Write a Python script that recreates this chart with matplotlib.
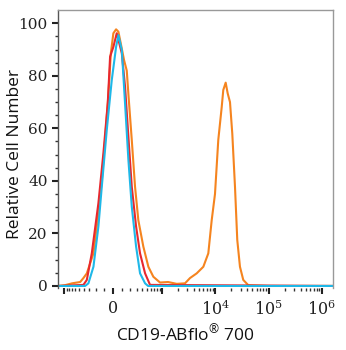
import numpy as np
import matplotlib
matplotlib.use("Agg")
import matplotlib.pyplot as plt

# CD19 histogram overlay, x values in fluorescence units (logicle-like axis)
orange_x = [-1300, -960, -700, -480, -409, -343, -235, -167, -125, -87, -50, -24, 3, 32, 57, 83,
            121, 154, 175, 221, 270, 325, 421, 538, 678, 917, 1307, 1909, 2732, 3391, 4532,
            6027, 7470, 8645, 9966, 11486, 13300, 14250, 15800, 17230, 19020, 21000, 23590,
            26030, 29240, 33700, 41790, 1e5, 1e6, 1.6e6]
orange_y = [0, 0.3, 1, 1.5, 3, 4.8, 12.4, 27.7, 40, 55.6, 73, 88.6, 96.2, 97.7, 96.8, 92.4,
            86, 82, 73, 55.6, 37.8, 25, 15, 7.3, 3.5, 1.3, 1.5, 0.8, 1, 3, 4.8,
            7.3, 12.4, 25, 35, 55.6, 68, 74.6, 77.4, 73.3, 70, 58, 37.8,
            17.5, 7.3, 2.3, 0.3, 0, 0, 0]

red_x = [-1300, -409, -343, -260, -167, -106, -57, -32, 3, 39, 95, 133, 175, 221, 287, 356,
         459, 582, 1.6e6]
red_y = [0, 0.4, 2.3, 12.4, 31.5, 50.6, 69.7, 87.3, 91, 96.2, 88.6, 75.9, 56.8, 37.8, 22.6,
         12.4, 4.8, 0.4, 0]

blue_x = [-1300, -375, -315, -235, -167, -125, -68, -14, 32, 57, 95, 133, 175, 221, 287, 356,
          459, 530, 1.6e6]
blue_y = [0, 0, 1, 7.3, 22.6, 37.8, 59.4, 78.4, 91, 95.5, 89.8, 69.5, 48, 30.2, 15, 4.8,
          1, 0, 0]

major_ticks = [-1e3, 0, 1e3, 1e4, 1e5, 1e6]
major_labels = ['', '0', '', '$10^4$', '$10^5$', '$10^6$']

W = 247.0
def fwd(x):
    return np.arcsinh(np.asarray(x, dtype=float) / W)
def inv(y):
    return W * np.sinh(y)

plt.rcParams['mathtext.fontset'] = 'dejavuserif'

fig = plt.figure(figsize=(3.46, 3.5), dpi=100)
ax = fig.add_axes([0.168, 0.177, 0.794, 0.794])
ax.set_xscale('function', functions=(fwd, inv))

ax.plot(orange_x, orange_y, color='#f5841f', lw=1.5)
ax.plot(red_x, red_y, color='#e8282e', lw=1.5)
ax.plot(blue_x, blue_y, color='#1fb8e8', lw=1.5)

ax.set_xlim(-1307, 1.6e6)
ax.set_ylim(-0.8, 105)

ax.set_xticks(major_ticks, major_labels)
minor = []
for k in [2, 3, 4, 5]:
    for m in range(2 if k > 2 else 1, 10):
        v = m * 10 ** k
        if v < 1.6e6:
            minor.append(v)
minor += [-m * 100 for m in range(1, 10)] + [100]
ax.set_xticks(sorted(set(minor)), minor=True)

ax.set_yticks([0, 20, 40, 60, 80, 100])
ax.set_yticks(np.arange(0, 105, 5), minor=True)

for lab in ax.get_xticklabels():
    lab.set_family('DejaVu Serif')
    lab.set_fontsize(11.5)
    lab.set_color('#222222')
for lab in ax.get_yticklabels():
    lab.set_family('DejaVu Serif')
    lab.set_fontsize(11)
    lab.set_color('#222222')

ax.tick_params(axis='both', which='major', direction='out', length=4.5, width=1.5, color='#222222')
ax.tick_params(axis='both', which='minor', direction='out', length=2.5, width=1.0, color='#333333')
ax.tick_params(axis='x', which='both', pad=4)
ax.tick_params(axis='y', which='major', pad=3)

ax.spines['bottom'].set_visible(False)
ax.spines['left'].set_color('#555555')
ax.spines['top'].set_color('#999999')
ax.spines['right'].set_color('#999999')
for s in ax.spines.values():
    s.set_linewidth(1.0)

ax.set_ylabel('Relative Cell Number', family='Open Sans', fontsize=12.5, color='#111111')
ax.yaxis.set_label_coords(-0.127, 0.482)
ax.set_xlabel(r'CD19-ABflo$\mathregular{^{®}}$ 700', family='Open Sans', fontsize=12.5,
              color='#111111')
ax.xaxis.set_label_coords(0.462, -0.125)

fig.savefig('out.png', dpi=100)
